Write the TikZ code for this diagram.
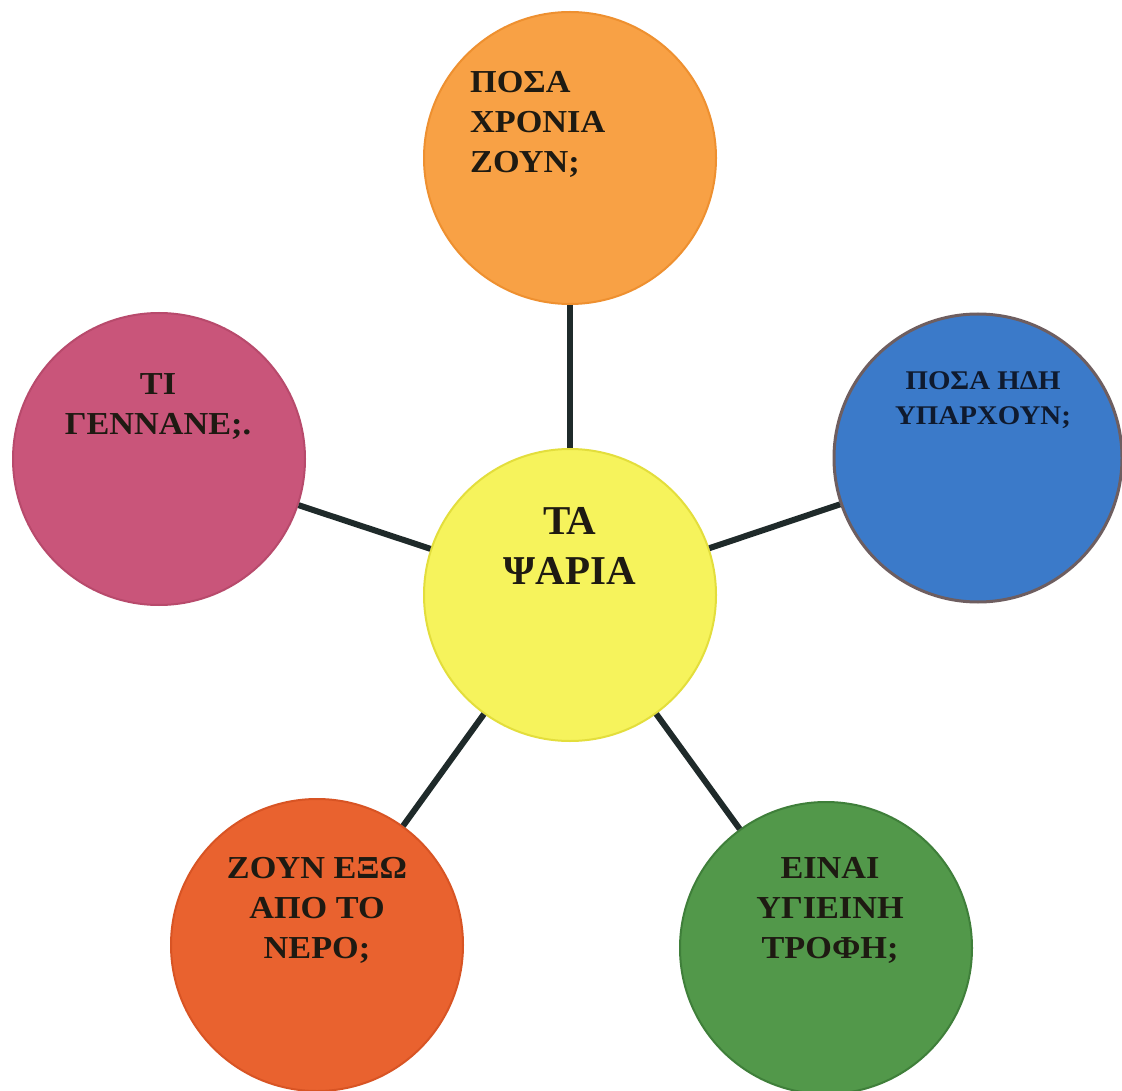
\documentclass[tikz,border=0pt]{standalone}
\usepackage{fontspec}
\setmainfont{Liberation Serif}[FakeStretch=1.07]
\newfontfamily\plainserif{Liberation Serif}
\definecolor{orangeF}{HTML}{F8A145}
\definecolor{orangeD}{HTML}{EE9030}
\definecolor{pinkF}{HTML}{C9557A}
\definecolor{pinkD}{HTML}{B84A6C}
\definecolor{blueF}{HTML}{3B7AC9}
\definecolor{blueD}{HTML}{6E5E60}
\definecolor{yellowF}{HTML}{F6F35C}
\definecolor{yellowD}{HTML}{E3DE3C}
\definecolor{redF}{HTML}{E9622F}
\definecolor{redD}{HTML}{D85424}
\definecolor{greenF}{HTML}{52984A}
\definecolor{greenD}{HTML}{3F7F3A}
\definecolor{connC}{HTML}{1F2A2A}
\definecolor{txtC}{HTML}{1E1A12}
\definecolor{navyT}{HTML}{0F1A2E}
\begin{document}
\begin{tikzpicture}[x=1pt,y=-1pt,
  bubble/.style={circle, minimum size=292pt, inner sep=0pt, line width=2pt},
  conn/.style={draw=connC, line width=6pt},
  lbl/.style={anchor=north, inner sep=0pt, text=txtC, font=\fontsize{32}{40}\selectfont\bfseries}]
\fill[white] (0,0) rectangle (1122,1091);
\useasboundingbox (0,0) rectangle (1122,1091);
\node[bubble, fill=orangeF, draw=orangeD] (top) at (570,158) {};
\node[bubble, fill=pinkF, draw=pinkD] (left) at (159,459) {};
\node[bubble, fill=blueF, draw=blueD, line width=3pt, minimum size=288pt] (right) at (978,458) {};
\node[bubble, fill=yellowF, draw=yellowD] (mid) at (570,595) {};
\node[bubble, fill=redF, draw=redD] (bl) at (317,945) {};
\node[bubble, fill=greenF, draw=greenD] (br) at (826,948) {};
\draw[conn] (top) -- (mid);
\draw[conn] (left) -- (mid);
\draw[conn] (right) -- (mid);
\draw[conn] (bl) -- (mid);
\draw[conn] (br) -- (mid);
\node[lbl, anchor=north west, align=left] (ttop) at (470,71) {ΠΟΣΑ\\ΧΡΟΝΙΑ\\ΖΟΥΝ;};
\node[lbl, align=center] (tleft) at (158,373) {ΤΙ\\ΓΕΝΝΑΝΕ;.};
\node[lbl, align=center, text=navyT, font=\fontsize{27}{35}\selectfont\bfseries] (tright) at (983,371) {ΠΟΣΑ ΗΔΗ\\ΥΠΑΡΧΟΥΝ;};
\node[lbl, align=center, font=\plainserif\fontsize{41}{50}\selectfont\bfseries] (tmid) at (570,507) {ΤΑ\\ΨΑΡΙΑ};
\node[lbl, align=center] (tbl) at (317,857) {ΖΟΥΝ ΕΞΩ\\ΑΠΟ ΤΟ\\ΝΕΡΟ;};
\node[lbl, align=center] (tbr) at (830,857) {ΕΙΝΑΙ\\ΥΓΙΕΙΝΗ\\ΤΡΟΦΗ;};
\end{tikzpicture}
\end{document}
